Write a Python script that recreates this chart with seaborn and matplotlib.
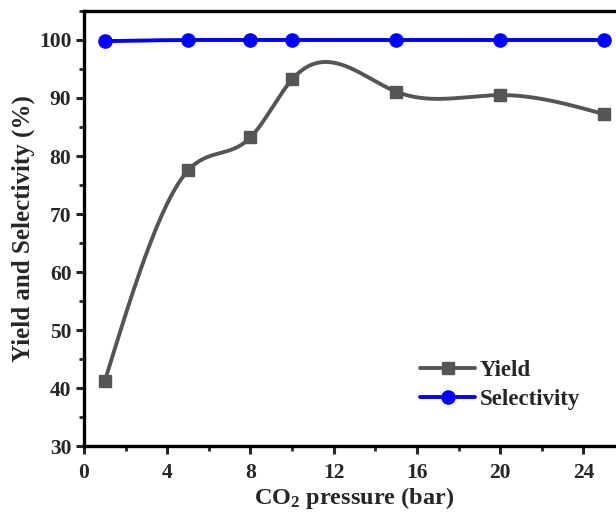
import numpy as np
import pandas as pd
import matplotlib
matplotlib.use("Agg")
import matplotlib.pyplot as plt
import seaborn as sns
from matplotlib.ticker import MultipleLocator
from matplotlib.lines import Line2D

pressure = [1, 5, 8, 10, 15, 20, 25]
yield_pct = [41.2, 77.5, 83.2, 93.2, 91.1, 90.5, 87.2]
selectivity_pct = [99.8, 100.0, 100.0, 100.0, 100.0, 100.0, 100.0]
series_names = ["Yield", "Selectivity"]
x_ticks = [0, 4, 8, 12, 16, 20, 24]
y_ticks = [30, 40, 50, 60, 70, 80, 90, 100]

sns.set_theme(style="ticks")
plt.rcParams["font.family"] = ["Liberation Serif", "DejaVu Serif"]
plt.rcParams["font.weight"] = "bold"
plt.rcParams["mathtext.fontset"] = "custom"
plt.rcParams["mathtext.rm"] = "Liberation Serif:bold"
plt.rcParams["mathtext.it"] = "Liberation Serif:bold"
plt.rcParams["mathtext.bf"] = "Liberation Serif:bold"
plt.rcParams["mathtext.default"] = "rm"


def natural_cubic(x, y, xs):
    x = np.asarray(x, float); y = np.asarray(y, float)
    n = len(x); h = np.diff(x)
    A = np.zeros((n, n)); b = np.zeros(n)
    A[0, 0] = 1; A[-1, -1] = 1
    for i in range(1, n - 1):
        A[i, i - 1] = h[i - 1]
        A[i, i] = 2 * (h[i - 1] + h[i])
        A[i, i + 1] = h[i]
        b[i] = 3 * ((y[i + 1] - y[i]) / h[i] - (y[i] - y[i - 1]) / h[i - 1])
    c = np.linalg.solve(A, b)
    out = np.empty_like(xs)
    for k, xv in enumerate(xs):
        i = min(np.searchsorted(x, xv, side="right") - 1, n - 2)
        i = max(i, 0)
        dx = xv - x[i]
        bi = (y[i + 1] - y[i]) / h[i] - h[i] * (2 * c[i] + c[i + 1]) / 3
        di = (c[i + 1] - c[i]) / (3 * h[i])
        out[k] = y[i] + bi * dx + c[i] * dx ** 2 + di * dx ** 3
    return out


xs = np.linspace(pressure[0], pressure[-1], 400)
curve = pd.DataFrame({
    "x": np.concatenate([xs, xs]),
    "y": np.concatenate([natural_cubic(pressure, yield_pct, xs),
                         natural_cubic(pressure, selectivity_pct, xs)]),
    "series": [series_names[0]] * len(xs) + [series_names[1]] * len(xs),
})
pts = pd.DataFrame({
    "x": pressure * 2,
    "y": yield_pct + selectivity_pct,
    "series": [series_names[0]] * len(pressure) + [series_names[1]] * len(pressure),
})

colors = {"Yield": "#555555", "Selectivity": "#0000ff"}
markers = {"Yield": "s", "Selectivity": "o"}
msizes = {"Yield": 8, "Selectivity": 9.5}

fig = plt.figure(figsize=(6.16, 5.13), dpi=100)
ax = fig.add_axes([84 / 616, 67 / 513, 541 / 616, 435 / 513])

sns.lineplot(data=curve, x="x", y="y", hue="series", palette=colors,
             linewidth=2.8, legend=False, ax=ax, sort=False, estimator=None)
for name in series_names:
    sub = pts[pts.series == name]
    ax.plot(sub.x, sub.y, linestyle="none", marker=markers[name],
            color=colors[name], markersize=msizes[name], zorder=5, clip_on=False)

ax.set_xlim(0, 26)
ax.set_ylim(30, 105)
ax.set_xticks(x_ticks)
ax.set_yticks(y_ticks)
ax.xaxis.set_minor_locator(MultipleLocator(2))
ax.yaxis.set_minor_locator(MultipleLocator(5))
ax.tick_params(axis="both", which="major", direction="out", length=6, width=2.2,
               labelsize=15.5)
ax.tick_params(axis="x", which="major", pad=6)
ax.tick_params(axis="y", which="major", pad=3)
ax.tick_params(axis="both", which="minor", direction="out", length=3.5, width=2)
for lab in ax.get_xticklabels() + ax.get_yticklabels():
    lab.set_fontweight("bold")
for s in ax.spines.values():
    s.set_linewidth(2.4)
    s.set_color("black")

ax.set_xlabel("CO$_2$ pressure (bar)", fontsize=17.5, fontweight="bold", labelpad=2)
ax.set_ylabel("Yield and Selectivity (%)", fontsize=18, fontweight="bold", labelpad=3)

handles = [Line2D([], [], color=colors[n], marker=markers[n], linewidth=2.8,
                  markersize=msizes[n]) for n in series_names]
ax.legend(handles, series_names, loc="lower right", bbox_to_anchor=(0.955, 0.035),
          frameon=False, prop={"family": "Liberation Serif", "weight": "bold", "size": 16.5},
          handlelength=2.4, handletextpad=0.2, labelspacing=0.35)

fig.savefig("out.png", dpi=100)
